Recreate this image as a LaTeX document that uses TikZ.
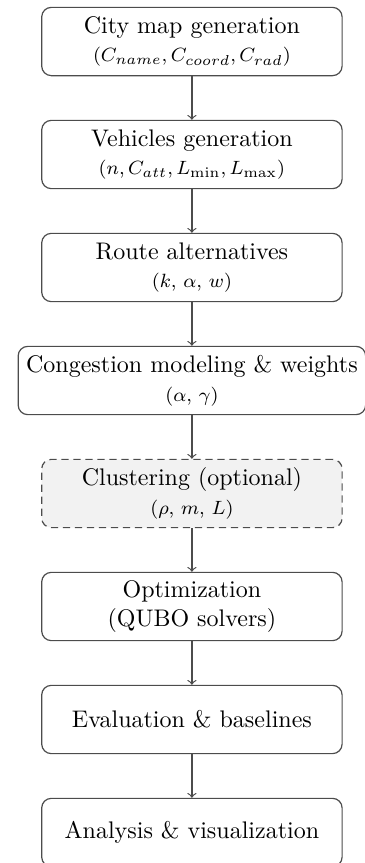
\documentclass[tikz,border=0pt]{standalone}

\tikzset{
  stage/.style={draw=black!70, line width=0.5pt, rounded corners=4pt,
    minimum width=4.4cm, minimum height=1cm, align=center},
  optstage/.style={stage, dash pattern=on 3pt off 2pt, fill=black!5},
  flow/.style={->, draw=black!70, line width=0.5pt}
}

\begin{document}
\begin{tikzpicture}
\useasboundingbox (-2.811,0.608) rectangle (2.533,-12.032);
% pipeline stages
\node[stage] (citymap) at (0,0) {City map generation\\{\footnotesize $(C_{name}, C_{coord}, C_{rad})$}};
\node[stage] (vehicles) at (0,-1.655) {Vehicles generation\\{\footnotesize $(n, C_{att}, L_{\min}, L_{\max})$}};
\node[stage] (routes) at (0,-3.310) {Route alternatives\\{\footnotesize ($k$, $\alpha$, $w$)}};
\node[stage] (congestion) at (0,-4.965) {Congestion modeling \& weights\\{\footnotesize ($\alpha$, $\gamma$)}};
\node[optstage] (clustering) at (0,-6.620) {Clustering (optional)\\{\footnotesize ($\rho$, $m$, $L$)}};
\node[stage] (optim) at (0,-8.275) {Optimization\\(QUBO solvers)};
\node[stage] (evaluation) at (0,-9.930) {Evaluation \& baselines};
\node[stage] (analysis) at (0,-11.585) {Analysis \& visualization};
% arrows
\draw[flow] (citymap) -- (vehicles);
\draw[flow] (vehicles) -- (routes);
\draw[flow] (routes) -- (congestion);
\draw[flow] (congestion) -- (clustering);
\draw[flow] (clustering) -- (optim);
\draw[flow] (optim) -- (evaluation);
\draw[flow] (evaluation) -- (analysis);
\end{tikzpicture}
\end{document}
